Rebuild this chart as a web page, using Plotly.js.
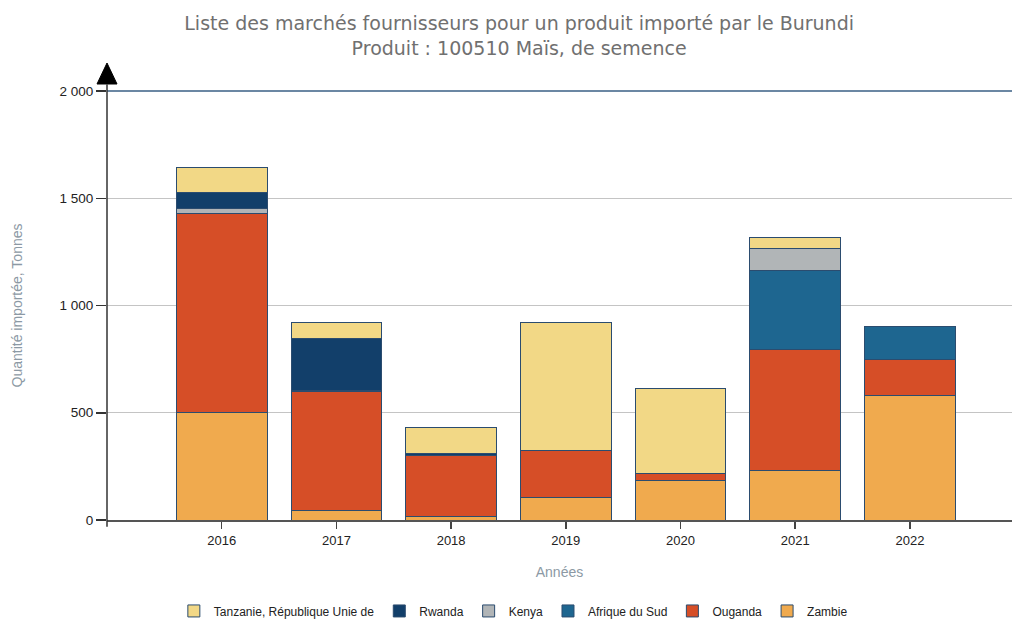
<!DOCTYPE html>
<html>
<head>
<meta charset="utf-8">
<script src="https://cdn.plot.ly/plotly-3.0.1.min.js"></script>
<style>html,body{margin:0;padding:0;background:#fff;}#chart{width:1012px;height:619px;}</style>
</head>
<body>
<div id="chart"></div>
<script>
var years = ['2016', '2017', '2018', '2019', '2020', '2021', '2022'];
var zambie = [500, 42, 15, 107, 182, 230, 580];
var ouganda = [930, 558, 286, 218, 37, 563, 166];
var afriqueDuSud = [0, 0, 0, 0, 0, 371, 155];
var kenya = [23, 5, 0, 0, 0, 101, 0];
var rwanda = [73, 240, 10, 0, 0, 0, 0];
var tanzanie = [116, 75, 121, 595, 396, 51, 0];

var seriesNames = ['Zambie', 'Ouganda', 'Afrique du Sud', 'Kenya', 'Rwanda', 'Tanzanie, République Unie de'];
var seriesValues = [zambie, ouganda, afriqueDuSud, kenya, rwanda, tanzanie];
var seriesColors = ['#F0AA4E', '#D64E27', '#1E6690', '#B1B5B7', '#123F6A', '#F2D886'];

var traces = seriesNames.map(function (name, i) {
  return {
    type: 'bar',
    name: name,
    x: years,
    y: seriesValues[i],
    width: 0.79,
    marker: { color: seriesColors[i], line: { color: '#2B4C6F', width: 1 } },
    hoverinfo: 'name+y'
  };
});

var layout = {
  width: 1012,
  height: 619,
  margin: { l: 107, r: 0, t: 91, b: 99, autoexpand: false },
  paper_bgcolor: '#ffffff',
  plot_bgcolor: '#ffffff',
  barmode: 'stack',
  separators: ', ',
  font: { family: 'Liberation Sans, Arial, sans-serif', size: 12, color: '#222' },
  title: {
    text: 'Liste des marchés fournisseurs pour un produit importé par le Burundi<br>Produit : 100510 Maïs, de semence',
    font: { family: 'DejaVu Sans, sans-serif', size: 19, color: '#707070' },
    x: 0.513, xanchor: 'center', xref: 'container',
    y: 0.951, yanchor: 'top', yref: 'container'
  },
  xaxis: {
    type: 'category',
    range: [-1, 6.89],
    showgrid: false,
    showline: true, linecolor: '#555', linewidth: 1.5,
    ticks: 'outside', ticklen: 7, tickcolor: '#444', tickwidth: 1.5,
    ticklabelstandoff: 1,
    tickfont: { size: 13, color: '#222' },
    title: { text: 'Années', font: { size: 14, color: '#8C99A4' }, standoff: 20 },
    fixedrange: true
  },
  yaxis: {
    range: [0, 2000],
    tickvals: [0, 500, 1000, 1500, 2000],
    separatethousands: true,
    showgrid: true, gridcolor: '#C4C4C4', gridwidth: 1,
    zeroline: false,
    showline: false,
    ticks: 'outside', ticklen: 10, tickcolor: '#333', tickwidth: 1.5,
    tickfont: { size: 13.5, color: '#222' },
    title: { text: 'Quantité importée, Tonnes', font: { size: 14, color: '#8C99A4' }, standoff: 33 },
    fixedrange: true
  },
  legend: {
    orientation: 'h',
    traceorder: 'reversed',
    x: 0.449, xanchor: 'center',
    y: -0.212, yanchor: 'middle',
    font: { size: 12, color: '#222' },
    itemwidth: 30
  },
  shapes: [
    { type: 'line', xref: 'paper', yref: 'paper', x0: 0, x1: 1, y0: 1, y1: 1,
      line: { color: '#3A5F85', width: 1.5 } },
    { type: 'line', xref: 'paper', yref: 'paper', x0: 0, x1: 0, y0: -0.016, y1: 1.015,
      line: { color: '#333', width: 1.5 } },
    { type: 'path', xref: 'paper', yref: 'paper',
      xsizemode: 'pixel', xanchor: 0, ysizemode: 'pixel', yanchor: 1,
      path: 'M -10 7 L 10 7 L 0 28 Z',
      fillcolor: '#000', line: { color: '#000', width: 1 } }
  ]
};

Plotly.newPlot('chart', traces, layout, { displayModeBar: false, staticPlot: true });
</script>
</body>
</html>
